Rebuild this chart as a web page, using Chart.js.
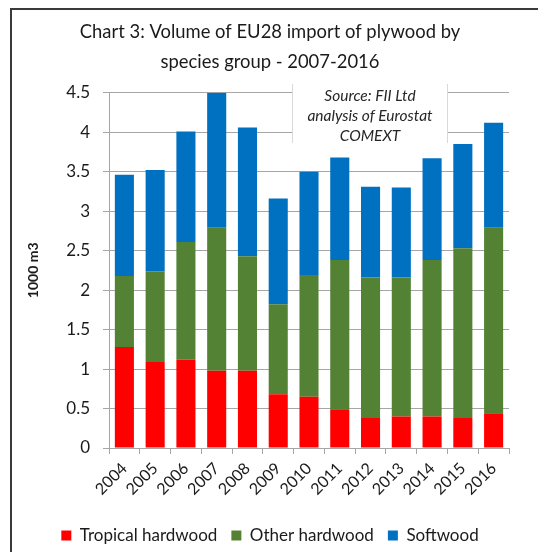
<!DOCTYPE html>
<html>
<head>
<meta charset="utf-8">
<script src="https://cdn.jsdelivr.net/npm/chart.js@4.4.1/dist/chart.umd.min.js"></script>
<style>
html,body{margin:0;padding:0;background:#fff;}
#wrap{position:relative;width:538px;height:552px;}
</style>
</head>
<body>
<div id="wrap"><canvas id="c" width="538" height="552"></canvas></div>
<script>
const years = ['2004','2005','2006','2007','2008','2009','2010','2011','2012','2013','2014','2015','2016'];
const tropicalHardwood = [1.28, 1.09, 1.12, 0.98, 0.98, 0.68, 0.65, 0.49, 0.38, 0.40, 0.40, 0.38, 0.44];
const otherHardwood    = [0.90, 1.15, 1.49, 1.81, 1.45, 1.14, 1.54, 1.89, 1.78, 1.76, 1.98, 2.15, 2.35];
const softwood         = [1.28, 1.28, 1.40, 1.71, 1.63, 1.34, 1.31, 1.30, 1.15, 1.14, 1.29, 1.32, 1.33];
const titleLines = ['Chart 3: Volume of EU28 import of plywood by', 'species group - 2007-2016'];
const sourceLines = ['Source: FII Ltd', 'analysis of Eurostat', 'COMEXT'];
const yAxisTitle = '1000 m3';

const FONT = 'Lato';

const framePlugin = {
  id: 'frame',
  beforeDraw(chart) {
    const ctx = chart.ctx;
    ctx.save();
    ctx.fillStyle = '#fff';
    ctx.fillRect(0, 0, chart.width, chart.height);
    ctx.strokeStyle = '#3a3a3a';
    ctx.lineWidth = 2;
    ctx.beginPath();
    ctx.moveTo(11, chart.height);
    ctx.lineTo(11, 9);
    ctx.lineTo(chart.width, 9);
    ctx.stroke();
    ctx.restore();
  },
  afterDraw(chart) {
    const ctx = chart.ctx;
    const x1 = 292, x2 = 448, y1 = 84, y2 = 143;
    ctx.save();
    ctx.fillStyle = '#fff';
    ctx.fillRect(x1, y1, x2 - x1, y2 - y1);
    ctx.strokeStyle = '#d9d9d9';
    ctx.lineWidth = 1;
    ctx.beginPath();
    ctx.moveTo(x1 + 0.5, y1); ctx.lineTo(x1 + 0.5, y2);
    ctx.moveTo(x2 - 0.5, y1); ctx.lineTo(x2 - 0.5, y2);
    ctx.stroke();
    ctx.fillStyle = '#262626';
    ctx.font = 'italic 15.5px ' + FONT;
    ctx.textAlign = 'center';
    ctx.textBaseline = 'middle';
    sourceLines.forEach((t, i) => ctx.fillText(t, (x1 + x2) / 2, 96 + i * 20));
    ctx.restore();
  }
};

new Chart(document.getElementById('c'), {
  type: 'bar',
  data: {
    labels: years,
    datasets: [
      { label: 'Tropical hardwood', data: tropicalHardwood, backgroundColor: '#FF0000' },
      { label: 'Other hardwood', data: otherHardwood, backgroundColor: '#548235' },
      { label: 'Softwood', data: softwood, backgroundColor: '#0070C0' }
    ]
  },
  options: {
    responsive: false,
    animation: false,
    devicePixelRatio: 1,
    layout: { padding: { left: 31, right: 29, top: 17, bottom: -2 } },
    datasets: { bar: { categoryPercentage: 1, barPercentage: 0.62 } },
    plugins: {
      title: {
        display: true,
        text: titleLines,
        color: '#1a1a1a',
        font: { family: FONT, size: 18.4, weight: 'normal', lineHeight: 1.65 },
        padding: { top: 0, bottom: 15 }
      },
      legend: {
        position: 'bottom',
        labels: {
          color: '#1a1a1a',
          font: { family: FONT, size: 17 },
          boxWidth: 10, boxHeight: 10, padding: 14
        }
      },
      tooltip: { enabled: false }
    },
    scales: {
      x: {
        stacked: true,
        afterFit(s) { s.height = 65; },
        grid: { drawOnChartArea: false, drawTicks: true, tickLength: 6, offset: true, color: '#a6a6a6' },
        border: { color: '#a6a6a6' },
        ticks: { color: '#1a1a1a', font: { family: FONT, size: 16 }, minRotation: 45, maxRotation: 45, padding: 5, autoSkip: false }
      },
      y: {
        stacked: true,
        min: 0, max: 4.5,
        afterFit(s) { s.width = 78; },
        grid: { color: '#a6a6a6', tickLength: 6 },
        border: { color: '#a6a6a6' },
        ticks: { stepSize: 0.5, color: '#1a1a1a', font: { family: FONT, size: 17 }, padding: 13,
                 callback: v => String(Math.round(v * 10) / 10) },
        title: { display: true, text: yAxisTitle, color: '#1a1a1a', font: { family: FONT, size: 14, weight: 'bold' }, padding: { top: -6, bottom: 0 } }
      }
    }
  },
  plugins: [framePlugin]
});
</script>
</body>
</html>
